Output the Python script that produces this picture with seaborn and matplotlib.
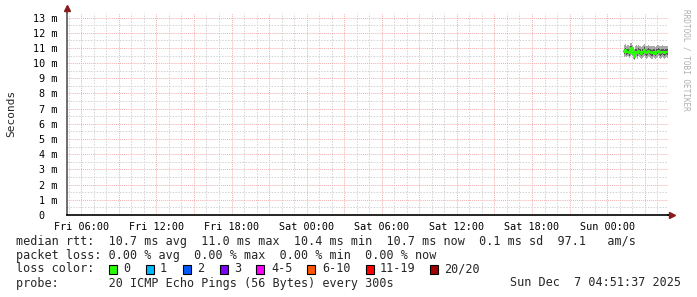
import matplotlib
matplotlib.use('Agg')
import matplotlib.pyplot as plt
import matplotlib.dates as mdates
from matplotlib.ticker import MultipleLocator, FuncFormatter
from matplotlib.patches import Rectangle
import pandas as pd
import seaborn as sns

# ---------------- data ----------------
median_ms = [10.80, 10.75, 10.85, 10.70, 10.75, 10.65, 10.90, 11.00, 10.80, 10.60,
             10.40, 10.70, 10.75, 10.65, 10.80, 10.75, 10.70, 10.60, 10.70, 10.75,
             10.85, 10.70, 10.65, 10.70, 10.80, 10.75, 10.70, 10.65, 10.75, 10.70,
             10.60, 10.70, 10.75, 10.80, 10.70, 10.65, 10.70, 10.75, 10.70, 10.65,
             10.70, 10.75, 10.70]
ping_lo = [10.45, 10.40, 10.45, 10.40, 10.45, 10.35, 10.50, 10.55, 10.45, 10.30,
           10.20, 10.35, 10.40, 10.30, 10.45, 10.40, 10.35, 10.30, 10.35, 10.40,
           10.45, 10.35, 10.30, 10.35, 10.45, 10.40, 10.35, 10.30, 10.40, 10.35,
           10.30, 10.35, 10.40, 10.45, 10.35, 10.30, 10.35, 10.40, 10.35, 10.30,
           10.35, 10.40, 10.35]
ping_hi = [11.45, 11.20, 11.25, 11.15, 11.20, 11.10, 11.30, 11.35, 11.20, 11.05,
           10.95, 11.15, 11.20, 11.10, 11.20, 11.15, 11.15, 11.05, 11.15, 11.20,
           11.25, 11.15, 11.10, 11.15, 11.20, 11.15, 11.15, 11.10, 11.15, 11.15,
           11.05, 11.15, 11.20, 11.20, 11.10, 11.10, 11.15, 11.20, 11.15, 11.10,
           11.15, 11.15, 11.10]
ping_q1 = [10.65, 10.60, 10.65, 10.55, 10.60, 10.50, 10.70, 10.80, 10.60, 10.45,
           10.30, 10.55, 10.60, 10.50, 10.65, 10.60, 10.55, 10.45, 10.55, 10.60,
           10.65, 10.55, 10.50, 10.55, 10.65, 10.60, 10.55, 10.50, 10.60, 10.55,
           10.45, 10.55, 10.60, 10.65, 10.55, 10.50, 10.55, 10.60, 10.55, 10.50,
           10.55, 10.60, 10.55]
ping_q3 = [11.10, 10.95, 11.00, 10.90, 10.95, 10.85, 11.10, 11.15, 11.00, 10.80,
           10.65, 10.90, 10.95, 10.85, 11.00, 10.95, 10.90, 10.80, 10.90, 10.95,
           11.05, 10.90, 10.85, 10.90, 11.00, 10.95, 10.90, 10.85, 10.95, 10.90,
           10.80, 10.90, 10.95, 11.00, 10.90, 10.85, 10.90, 10.95, 10.90, 10.85,
           10.90, 10.95, 10.90]
first_sample = '2025-12-07 01:20'
x_start = '2025-12-05 04:51:37'
x_end = '2025-12-07 04:51:37'

loss_labels = ['0', '1', '2', '3', '4-5', '6-10', '11-19', '20/20']
loss_colors = ['#26ff00', '#00b8ff', '#0059ff', '#7e00ff', '#ff00ff', '#ff5500', '#ff0000', '#a10000']
loss_box_x = [109, 146, 183, 220, 256, 307, 366, 430]
loss_txt_x = [123, 160, 197, 234, 271, 322, 380, 444]

line_rtt = "median rtt:  10.7 ms avg  11.0 ms max  10.4 ms min  10.7 ms now  0.1 ms sd  97.1   am/s"
line_loss = "packet loss: 0.00 % avg  0.00 % max  0.00 % min  0.00 % now"
line_probe = "probe:       20 ICMP Echo Pings (56 Bytes) every 300s"
stamp = "Sun Dec  7 04:51:37 2025"

# ---------------- style ----------------
sns.set_style('white')
plt.rcParams['font.family'] = ['DejaVu Sans Mono', 'DejaVu Sans']

W, H = 697, 297
fig = plt.figure(figsize=(W / 100, H / 100), dpi=100)
fig.patch.set_facecolor('white')
ax = fig.add_axes([67 / W, 82 / H, 601 / W, 202 / H])

df = pd.DataFrame({
    'time': pd.date_range(first_sample, periods=len(median_ms), freq='5min'),
    'median': median_ms, 'lo': ping_lo, 'hi': ping_hi, 'q1': ping_q1, 'q3': ping_q3,
})

ax.fill_between(df['time'], df['lo'], df['hi'], step='mid', color='#a8a8a8', lw=0, zorder=2)
ax.fill_between(df['time'], df['q1'], df['q3'], step='mid', color='#555555', lw=0, zorder=3)
sns.lineplot(data=df, x='time', y='median', ax=ax, color='#26ff00', lw=1.5,
             drawstyle='steps-mid', zorder=4)

ax.set_xlim(pd.Timestamp(x_start), pd.Timestamp(x_end))
ax.set_ylim(0, 13.3)
ax.set_xlabel('')
ax.set_ylabel('')

ax.yaxis.set_major_locator(MultipleLocator(1))
ax.yaxis.set_minor_locator(MultipleLocator(0.5))
ax.yaxis.set_major_formatter(FuncFormatter(lambda v, p: f"{int(round(v))} m" if v > 0.01 else "0  "))
ax.xaxis.set_major_locator(mdates.HourLocator(byhour=range(0, 24, 3)))
ax.xaxis.set_minor_locator(mdates.HourLocator())


def xfmt(v, p):
    d = mdates.num2date(v)
    return d.strftime('%a %H:%M') if d.hour % 6 == 0 else ''


ax.xaxis.set_major_formatter(FuncFormatter(xfmt))

ax.set_axisbelow(True)
ax.grid(which='minor', color='#d2d2d2', ls=(0, (1.5, 1.5)), lw=0.7)
ax.grid(which='major', color='#f4b0b0', ls=(0, (1, 1)), lw=0.7)

for s in ['top', 'right']:
    ax.spines[s].set_visible(False)
ax.spines['left'].set_color('#555555')
ax.spines['bottom'].set_color('#000000')
ax.spines['left'].set_linewidth(1.2)
ax.spines['bottom'].set_linewidth(1.2)

ax.tick_params(axis='x', which='major', length=3, color='#e07070', width=0.8,
               labelsize=7.3, pad=2, labelcolor='black')
ax.tick_params(axis='x', which='minor', length=0)
ax.tick_params(axis='y', which='major', length=2, color='#555555', width=0.8,
               labelsize=7.3, pad=5, labelcolor='black')
ax.tick_params(axis='y', which='minor', length=0)

# axis extensions and arrows
ax.plot([0, 0], [1, 1.03], transform=ax.transAxes, color='#555555', lw=1.2, clip_on=False)
ax.plot([0], [1.025], transform=ax.transAxes, marker='^', ms=4.5, color='#8b1a1a', clip_on=False)
ax.plot([1, 1.006], [0, 0], transform=ax.transAxes, color='#000000', lw=1.2, clip_on=False)
ax.plot([1.006], [0], transform=ax.transAxes, marker='>', ms=4.5, color='#8b1a1a', clip_on=False)

fig.text(11 / W, 1 - 113 / H, 'Seconds', rotation=90, ha='center', va='center', fontsize=8)
fig.text(686 / W, 1 - 60 / H, 'RRDTOOL / TOBI OETIKER', rotation=270, ha='center', va='center',
         fontsize=5.6, color='#b0b0b0')

fs = 8.5
fig.text(16 / W, 1 - 241 / H, line_rtt, ha='left', va='center', fontsize=fs)
fig.text(16 / W, 1 - 255 / H, line_loss, ha='left', va='center', fontsize=fs)
fig.text(16 / W, 1 - 269 / H, 'loss color:', ha='left', va='center', fontsize=fs)
for lab, col, bx, tx in zip(loss_labels, loss_colors, loss_box_x, loss_txt_x):
    fig.patches.append(Rectangle((bx / W, 1 - 273.5 / H), 8 / W, 9 / H, transform=fig.transFigure,
                                 facecolor=col, edgecolor='black', lw=0.8))
    fig.text(tx / W, 1 - 269 / H, lab, ha='left', va='center', fontsize=fs)
fig.text(16 / W, 1 - 283 / H, line_probe, ha='left', va='center', fontsize=fs)
fig.text(681 / W, 1 - 283 / H, stamp, ha='right', va='center', fontsize=fs)

fig.savefig('out.png', dpi=100, facecolor='white')
